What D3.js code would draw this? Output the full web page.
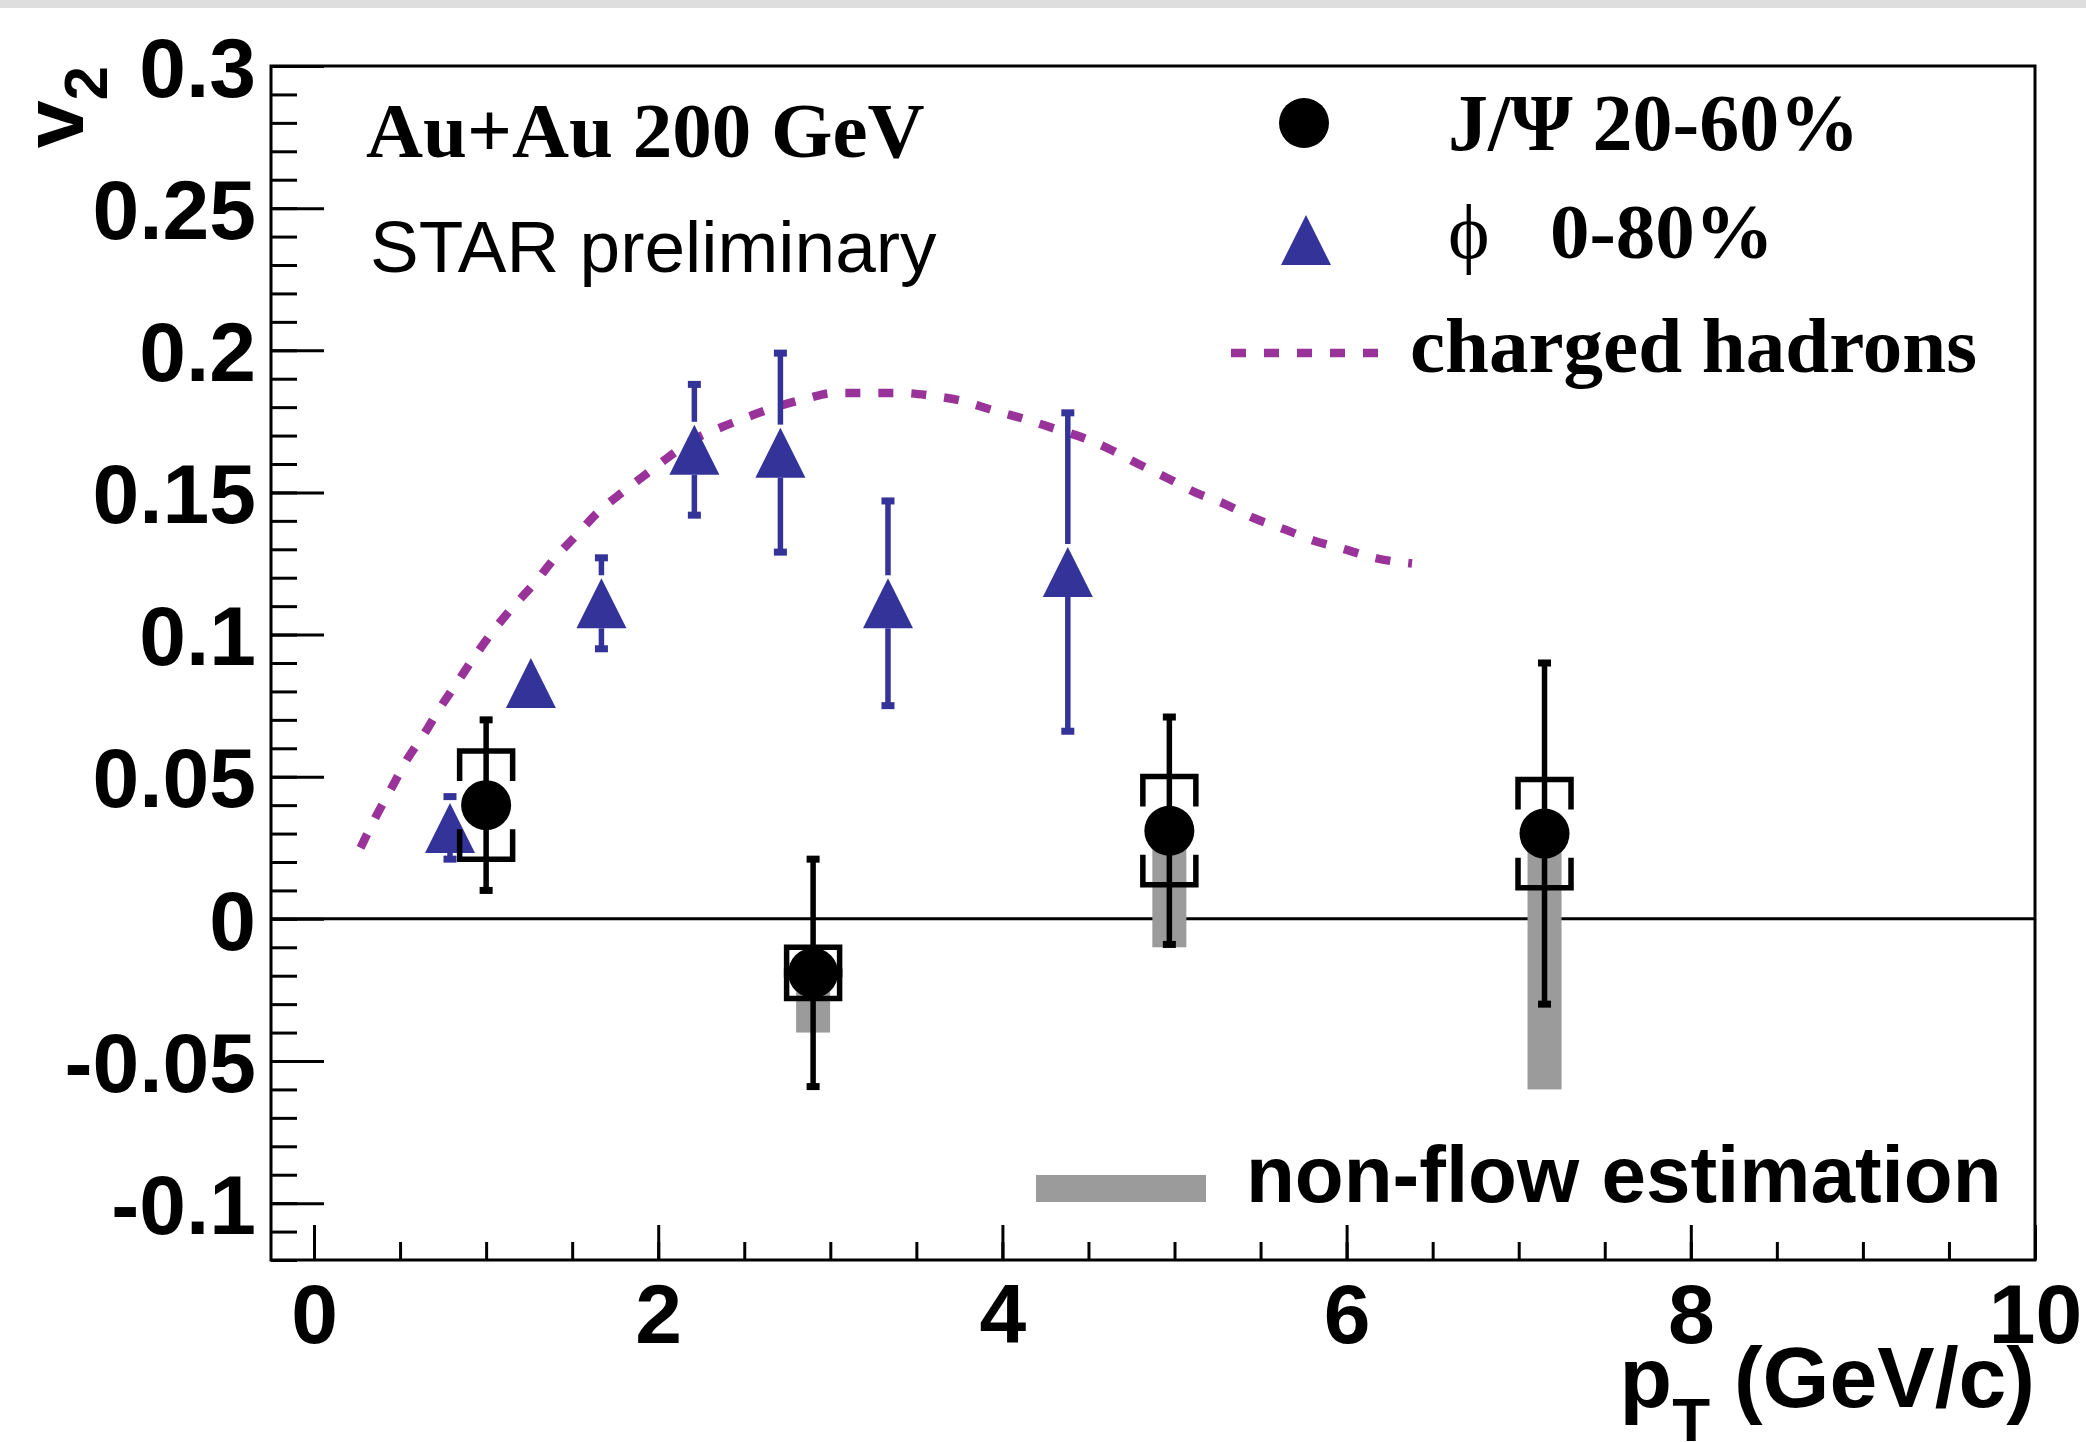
<!DOCTYPE html>
<html lang="en">
<head>
<meta charset="utf-8">
<title>J/psi and phi v2 vs pT</title>
<script src="https://d3js.org/d3.v7.min.js"></script>
<style>
  body { margin: 0; background: #fff; }
</style>
</head>
<body>
<script>
var width = 2086;
var height = 1442;

// J/psi 20-60%: pT, v2, stat error, sys error, lower edge of non-flow band
var jpsiPt = [1.0, 2.9, 4.97, 7.15];
var jpsiV2 = [0.040, -0.019, 0.031, 0.030];
var jpsiStat = [0.030, 0.040, 0.040, 0.060];
var jpsiSys = [0.020, 0.010, 0.020, 0.020];
var jpsiNonFlowLow = [null, -0.040, -0.010, -0.060];

// phi 0-80%
var phiPt = [0.79, 1.26, 1.67, 2.21, 2.71, 3.335, 4.38];
var phiV2 = [0.032, 0.083, 0.111, 0.165, 0.164, 0.111, 0.122];
var phiErr = [0.011, 0.006, 0.016, 0.023, 0.035, 0.036, 0.056];

// charged hadrons
var hadronPt = [0.27, 0.36, 0.45, 0.54, 0.64, 0.73, 0.83, 0.93, 1.05, 1.16, 1.28, 1.40,
  1.51, 1.65, 1.79, 1.92, 2.05, 2.22, 2.37, 2.54, 2.68, 2.86, 3.02, 3.22, 3.41, 3.59,
  3.78, 3.94, 4.12, 4.30, 4.48, 4.63, 4.79, 4.96, 5.12, 5.29, 5.46, 5.64, 5.81, 5.99,
  6.16, 6.38];
var hadronV2 = [0.025, 0.036, 0.046, 0.056, 0.065, 0.074, 0.083, 0.092, 0.102, 0.110,
  0.118, 0.127, 0.134, 0.143, 0.150, 0.156, 0.162, 0.169, 0.173, 0.177, 0.180, 0.183,
  0.185, 0.185, 0.185, 0.184, 0.182, 0.179, 0.176, 0.1725, 0.169, 0.165, 0.160, 0.155,
  0.150, 0.146, 0.141, 0.137, 0.133, 0.130, 0.127, 0.125];

// axis ticks
var xTicks = [0, 2, 4, 6, 8, 10];
var xTickLabels = ["0", "2", "4", "6", "8", "10"];
var yTicks = [-0.1, -0.05, 0, 0.05, 0.1, 0.15, 0.2, 0.25, 0.3];
var yTickLabels = ["-0.1", "-0.05", "0", "0.05", "0.1", "0.15", "0.2", "0.25", "0.3"];

var blue = "#333399";
var purple = "#993399";
var grey = "#9b9b9b";

var svg = d3.select("body").append("svg")
    .attr("width", width)
    .attr("height", height);

svg.append("rect")
    .attr("x", 0).attr("y", 0)
    .attr("width", width).attr("height", 8)
    .attr("fill", "#dedede");

var x = d3.scaleLinear().domain([-0.25, 10]).range([271, 2035]);
var y = d3.scaleLinear().domain([-0.12, 0.3]).range([1260, 66]);

var sansBold = "'Liberation Sans', Arial, sans-serif";
var serif = "'Liberation Serif', 'Times New Roman', serif";

// minor ticks first, majors on top
svg.append("g")
    .attr("transform", "translate(" + x.range()[0] + ",0)")
    .call(d3.axisLeft(y).tickValues(d3.range(-12, 31).map(function(i) { return i / 100; }))
      .tickSize(-26).tickFormat(""))
    .call(function(g) { g.select(".domain").remove(); });

var yAxis = svg.append("g")
    .attr("transform", "translate(" + x.range()[0] + ",0)")
    .call(d3.axisLeft(y).tickValues(yTicks).tickSize(-53).tickPadding(15)
      .tickFormat(function(d, i) { return yTickLabels[i]; }))
    .call(function(g) { g.select(".domain").remove(); });

svg.append("g")
    .attr("transform", "translate(0," + y.range()[0] + ")")
    .call(d3.axisBottom(x).tickValues(d3.range(0, 21).map(function(i) { return i * 0.5; }))
      .tickSize(-18).tickFormat(""))
    .call(function(g) { g.select(".domain").remove(); });

var xAxis = svg.append("g")
    .attr("transform", "translate(0," + y.range()[0] + ")")
    .call(d3.axisBottom(x).tickValues(xTicks).tickSize(-35).tickPadding(23)
      .tickFormat(function(d, i) { return xTickLabels[i]; }))
    .call(function(g) { g.select(".domain").remove(); });

svg.selectAll(".tick line").attr("stroke", "#000").attr("stroke-width", 3);

[xAxis, yAxis].forEach(function(g) {
  g.attr("font-family", sansBold).attr("font-size", 84).attr("font-weight", "bold");
  g.selectAll("text").attr("fill", "#000");
});
yAxis.selectAll("text").attr("dy", "0.36em");

// frame
svg.append("rect")
    .attr("x", x.range()[0]).attr("y", y.range()[1])
    .attr("width", x.range()[1] - x.range()[0])
    .attr("height", y.range()[0] - y.range()[1])
    .attr("fill", "none").attr("stroke", "#000").attr("stroke-width", 3);

// zero line
svg.append("line")
    .attr("x1", x.range()[0]).attr("x2", x.range()[1])
    .attr("y1", y(0)).attr("y2", y(0))
    .attr("stroke", "#000").attr("stroke-width", 3);

// axis titles
svg.append("text")
    .attr("transform", "translate(83," + (y.range()[1]) + ") rotate(-90)")
    .attr("text-anchor", "end")
    .attr("font-family", sansBold).attr("font-weight", "bold").attr("font-size", 86)
    .call(function(t) {
      t.append("tspan").text("v");
      t.append("tspan").attr("font-size", 62).attr("dy", 24).text("2");
    });

svg.append("text")
    .attr("x", x.range()[1]).attr("y", 1407)
    .attr("text-anchor", "end")
    .attr("font-family", sansBold).attr("font-weight", "bold").attr("font-size", 86)
    .call(function(t) {
      t.append("tspan").text("p");
      t.append("tspan").attr("font-size", 62).attr("dy", 34).text("T");
      t.append("tspan").attr("dy", -34).text(" (GeV/c)");
    });

// non-flow bands
var jpsi = jpsiPt.map(function(pt, i) {
  return { pt: pt, v2: jpsiV2[i], stat: jpsiStat[i], sys: jpsiSys[i], low: jpsiNonFlowLow[i] };
});

svg.append("g").selectAll("rect")
    .data(jpsi.filter(function(d) { return d.low !== null; }))
    .enter().append("rect")
    .attr("x", function(d) { return x(d.pt) - 17; })
    .attr("width", 34)
    .attr("y", function(d) { return y(d.v2); })
    .attr("height", function(d) { return y(d.low) - y(d.v2); })
    .attr("fill", grey);

// charged hadrons curve
var line = d3.line()
    .x(function(d) { return x(d[0]); })
    .y(function(d) { return y(d[1]); })
    .curve(d3.curveMonotoneX);

svg.append("path")
    .datum(hadronPt.map(function(pt, i) { return [pt, hadronV2[i]]; }))
    .attr("d", line)
    .attr("fill", "none")
    .attr("stroke", purple)
    .attr("stroke-width", 8.5)
    .attr("stroke-dasharray", "15 18");

// phi points
var phi = phiPt.map(function(pt, i) { return { pt: pt, v2: phiV2[i], err: phiErr[i] }; });
var r = 25;
var gPhi = svg.append("g");

phi.forEach(function(d) {
  var cx = x(d.pt), cy = y(d.v2);
  var top = y(d.v2 + d.err), bot = y(d.v2 - d.err);
  if (cy - top > r + 3) {
    gPhi.append("line").attr("x1", cx).attr("x2", cx).attr("y1", top).attr("y2", cy - r - 3)
        .attr("stroke", blue).attr("stroke-width", 5.5);
    gPhi.append("rect").attr("x", cx - 6.5).attr("y", top - 3.5).attr("width", 13).attr("height", 7)
        .attr("fill", blue);
  }
  if (bot - cy > r) {
    gPhi.append("line").attr("x1", cx).attr("x2", cx).attr("y1", cy + r).attr("y2", bot)
        .attr("stroke", blue).attr("stroke-width", 5.5);
    gPhi.append("rect").attr("x", cx - 6.5).attr("y", bot - 3.5).attr("width", 13).attr("height", 7)
        .attr("fill", blue);
  }
});

var triangle = function(cx, cy) {
  return "M" + (cx - r) + "," + (cy + r) + "L" + (cx + r) + "," + (cy + r) + "L" + cx + "," + (cy - r) + "Z";
};

gPhi.selectAll("path")
    .data(phi)
    .enter().append("path")
    .attr("d", function(d) { return triangle(x(d.pt), y(d.v2)); })
    .attr("fill", blue);

// J/psi points
var gJ = svg.append("g");
jpsi.forEach(function(d) {
  var cx = x(d.pt), cy = y(d.v2);
  var top = y(d.v2 + d.stat), bot = y(d.v2 - d.stat);
  gJ.append("line").attr("x1", cx).attr("x2", cx).attr("y1", top).attr("y2", bot)
      .attr("stroke", "#000").attr("stroke-width", 5.5);
  [top, bot].forEach(function(e) {
    gJ.append("rect").attr("x", cx - 6.5).attr("y", e - 3.5).attr("width", 13).attr("height", 7)
        .attr("fill", "#000");
  });
  // systematic brackets
  var sTop = y(d.v2 + d.sys) + 2.75, sBot = y(d.v2 - d.sys) - 2.75;
  var hw = 26.5, leg = 30;
  gJ.append("path")
      .attr("d", "M" + (cx - hw) + "," + (sTop + leg) + "V" + sTop + "H" + (cx + hw) + "V" + (sTop + leg))
      .attr("fill", "none").attr("stroke", "#000").attr("stroke-width", 5.5);
  gJ.append("path")
      .attr("d", "M" + (cx - hw) + "," + (sBot - leg) + "V" + sBot + "H" + (cx + hw) + "V" + (sBot - leg))
      .attr("fill", "none").attr("stroke", "#000").attr("stroke-width", 5.5);
  gJ.append("circle").attr("cx", cx).attr("cy", cy).attr("r", r).attr("fill", "#000");
});

// text labels
svg.append("text")
    .attr("x", 366).attr("y", 157)
    .attr("font-family", serif).attr("font-weight", "bold").attr("font-size", 79)
    .text("Au+Au 200 GeV");

svg.append("text")
    .attr("x", 370).attr("y", 272)
    .attr("font-family", "'Liberation Sans', Arial, sans-serif").attr("font-size", 73)
    .text("STAR preliminary");

// legend
svg.append("circle").attr("cx", 1304).attr("cy", 123).attr("r", r).attr("fill", "#000");
svg.append("text")
    .attr("x", 1448).attr("y", 150)
    .attr("font-family", serif).attr("font-weight", "bold").attr("font-size", 80)
    .text("J/\u03A8 20-60%");

svg.append("path").attr("d", triangle(1306, 240)).attr("fill", blue);
svg.append("text")
    .attr("x", 1448).attr("y", 258)
    .attr("font-family", "'Liberation Serif', 'DejaVu Serif', serif").attr("font-size", 79)
    .text("\u03D5");
svg.append("text")
    .attr("x", 1550).attr("y", 258)
    .attr("font-family", serif).attr("font-weight", "bold").attr("font-size", 79)
    .text("0-80%");

svg.append("line")
    .attr("x1", 1231).attr("x2", 1378).attr("y1", 353).attr("y2", 353)
    .attr("stroke", purple).attr("stroke-width", 8.5).attr("stroke-dasharray", "15 18");
svg.append("text")
    .attr("x", 1410).attr("y", 372)
    .attr("font-family", serif).attr("font-weight", "bold").attr("font-size", 79)
    .text("charged hadrons");

svg.append("rect")
    .attr("x", 1036).attr("y", 1175).attr("width", 170).attr("height", 27)
    .attr("fill", grey);
svg.append("text")
    .attr("x", 1246).attr("y", 1202)
    .attr("font-family", sansBold).attr("font-weight", "bold").attr("font-size", 80)
    .text("non-flow estimation");
</script>
</body>
</html>
